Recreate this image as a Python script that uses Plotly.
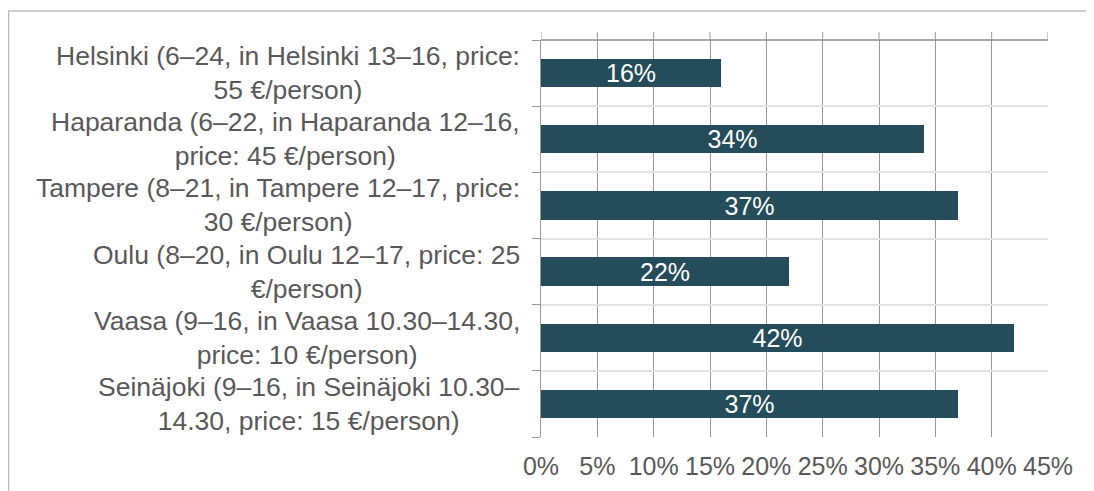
import plotly.graph_objects as go

categories = [
    "Helsinki (6–24, in Helsinki 13–16, price:<br>55 €/person)",
    "Haparanda (6–22, in Haparanda 12–16,<br>price: 45 €/person)",
    "Tampere (8–21, in Tampere 12–17, price:<br>30 €/person)",
    "Oulu (8–20, in Oulu 12–17, price: 25<br>€/person)",
    "Vaasa (9–16, in Vaasa 10.30–14.30,<br>price: 10 €/person)",
    "Seinäjoki (9–16, in Seinäjoki 10.30–<br>14.30, price: 15 €/person)",
]
values = [0.16, 0.34, 0.37, 0.22, 0.42, 0.37]
x_ticks = [0, 0.05, 0.10, 0.15, 0.20, 0.25, 0.30, 0.35, 0.40, 0.45]
x_tick_labels = ["0%", "5%", "10%", "15%", "20%", "25%", "30%", "35%", "40%", "45%"]

FONT = "Arial, Liberation Sans, sans-serif"
GREY_TEXT = "#595959"
BAR = "#244C5A"
GRID = "#999999"

# page body has an 8px margin, so positions are offset by it
W, H = 1094, 483
L, T, R, B = 533, 32, 54, 54
plot_h = H - T - B
plot_w = W - L - R

pos = list(range(len(categories)))
bounds = [p - 0.5 for p in pos] + [pos[-1] + 0.5]

fig = go.Figure()
fig.add_trace(go.Bar(
    x=values, y=pos, orientation="h", width=0.43,
    marker=dict(color=BAR, line=dict(width=0)),
    text=[f"{round(v*100)}%" for v in values],
    textposition="inside", insidetextanchor="middle",
    constraintext="none", textangle=0,
    textfont=dict(color="white", size=25, family=FONT),
    hoverinfo="skip",
))

for p, c in zip(pos, categories):
    fig.add_annotation(
        x=0, xref="paper", y=p, yref="y", text=c, showarrow=False,
        xanchor="right", yanchor="middle", align="center", xshift=-19,
        font=dict(size=26.5, color=GREY_TEXT, family=FONT),
    )

fig.update_layout(
    width=W, height=H,
    margin=dict(l=L, r=R, t=T, b=B, autoexpand=False),
    paper_bgcolor="white", plot_bgcolor="white",
    showlegend=False, bargap=0,
    xaxis=dict(
        range=[0, 0.45], tickvals=x_ticks, ticktext=x_tick_labels,
        showgrid=True, gridcolor=GRID, gridwidth=1,
        zeroline=False, showline=False, ticks="",
        ticklabelstandoff=12, automargin=False,
        tickfont=dict(size=25, color=GREY_TEXT, family=FONT),
    ),
    yaxis=dict(
        range=[pos[-1] + 0.5, -0.5], tickvals=bounds, showticklabels=False,
        showgrid=True, gridcolor="#e3e3e3", gridwidth=2,
        zeroline=False, showline=True, linecolor=GRID, linewidth=1,
        ticks="outside", ticklen=8, tickcolor=GRID, automargin=False,
    ),
)

# top axis line with upward tick marks at the x tick values
fig.add_shape(type="line", xref="paper", yref="paper", x0=0, x1=1, y0=1, y1=1,
              line=dict(color="#8c8c8c", width=1.5), layer="above")
for tv in x_ticks:
    fig.add_shape(type="line", xref="x", yref="paper", x0=tv, x1=tv,
                  y0=1, y1=1 + 8 / plot_h, line=dict(color=GRID, width=1))

# outer chart frame (top and left edges)
top_frame = 1 + (T - 3) / plot_h
fig.add_shape(type="line", xref="paper", yref="paper",
              x0=-L / plot_w, x1=1.3, y0=top_frame, y1=top_frame,
              line=dict(color="#bcbcbc", width=1.5))
fig.add_shape(type="line", xref="paper", yref="paper",
              x0=-(L - 0.5) / plot_w, x1=-(L - 0.5) / plot_w,
              y0=-0.3, y1=top_frame,
              line=dict(color="#bcbcbc", width=1.5))

fig.write_html("out.html")
